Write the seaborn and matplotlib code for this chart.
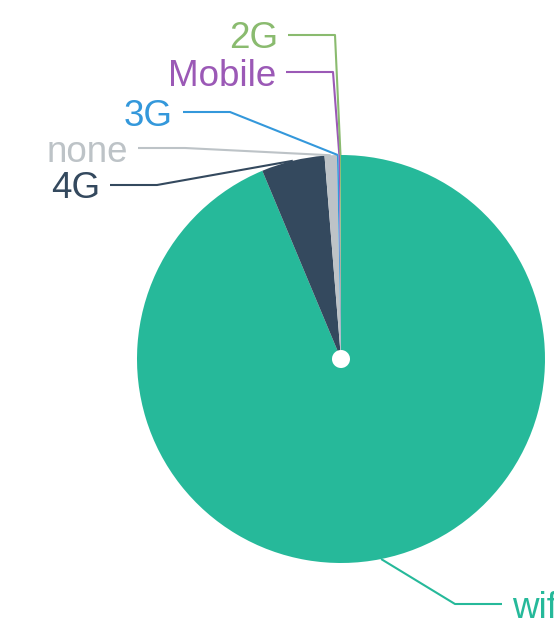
import numpy as np
import matplotlib
matplotlib.use("Agg")
import matplotlib.pyplot as plt
import seaborn as sns

# Data: connection type share (per 10000 sessions)
labels = ['wifi', '4G', 'none', '3G', 'Mobile', '2G']
values = [9369, 501, 97, 14, 10, 8]
colors = ['#26B99A', '#34495E', '#BDC3C7', '#3498DB', '#9B59B6', '#8ABB6F']

# label layout (pixel rows of text, x of the elbow, side)
label_y = [604, 185, 148, 112, 72, 35]
elbow_x = [455, 157, 185, 230, 333, 335]
side = ['right', 'left', 'left', 'left', 'left', 'left']

W, H = 554, 621
CX, CY, R = 341, 359, 204

sns.set_theme(style="white")
plt.rcParams['font.family'] = ['Liberation Sans', 'DejaVu Sans']

fig = plt.figure(figsize=(W / 100, H / 100), dpi=100)
ax = fig.add_axes([0, 0, 1, 1])

wedges, _ = ax.pie(values, colors=colors, startangle=90, counterclock=False,
                   radius=R, center=(CX, H - CY),
                   wedgeprops=dict(width=R - 9, linewidth=0))

# pie() resets the limits, so set the pixel frame afterwards
ax.set_xlim(0, W)
ax.set_ylim(0, H)
ax.set_aspect('equal')
ax.axis('off')

# label lines + text
for w, lab, col, ty, ex, sd in zip(wedges, labels, colors, label_y, elbow_x, side):
    mid = np.deg2rad((w.theta1 + w.theta2) / 2)
    ax_x = CX + R * np.cos(mid)
    ax_y = (H - CY) + R * np.sin(mid)
    yy = H - ty
    seg = 47
    if sd == 'left':
        xs = [ax_x, ex, ex - seg]
        tx, ha = ex - seg - 10, 'right'
    else:
        xs = [ax_x, ex, ex + seg]
        tx, ha = ex + seg + 10, 'left'
    ax.plot(xs, [ax_y, yy, yy], color=col, lw=1.5, solid_capstyle='butt', zorder=1)
    ax.text(tx, yy, lab, color=col, fontsize=26.5, ha=ha, va='center_baseline',
            clip_on=False)

fig.savefig('out.png', dpi=100)
